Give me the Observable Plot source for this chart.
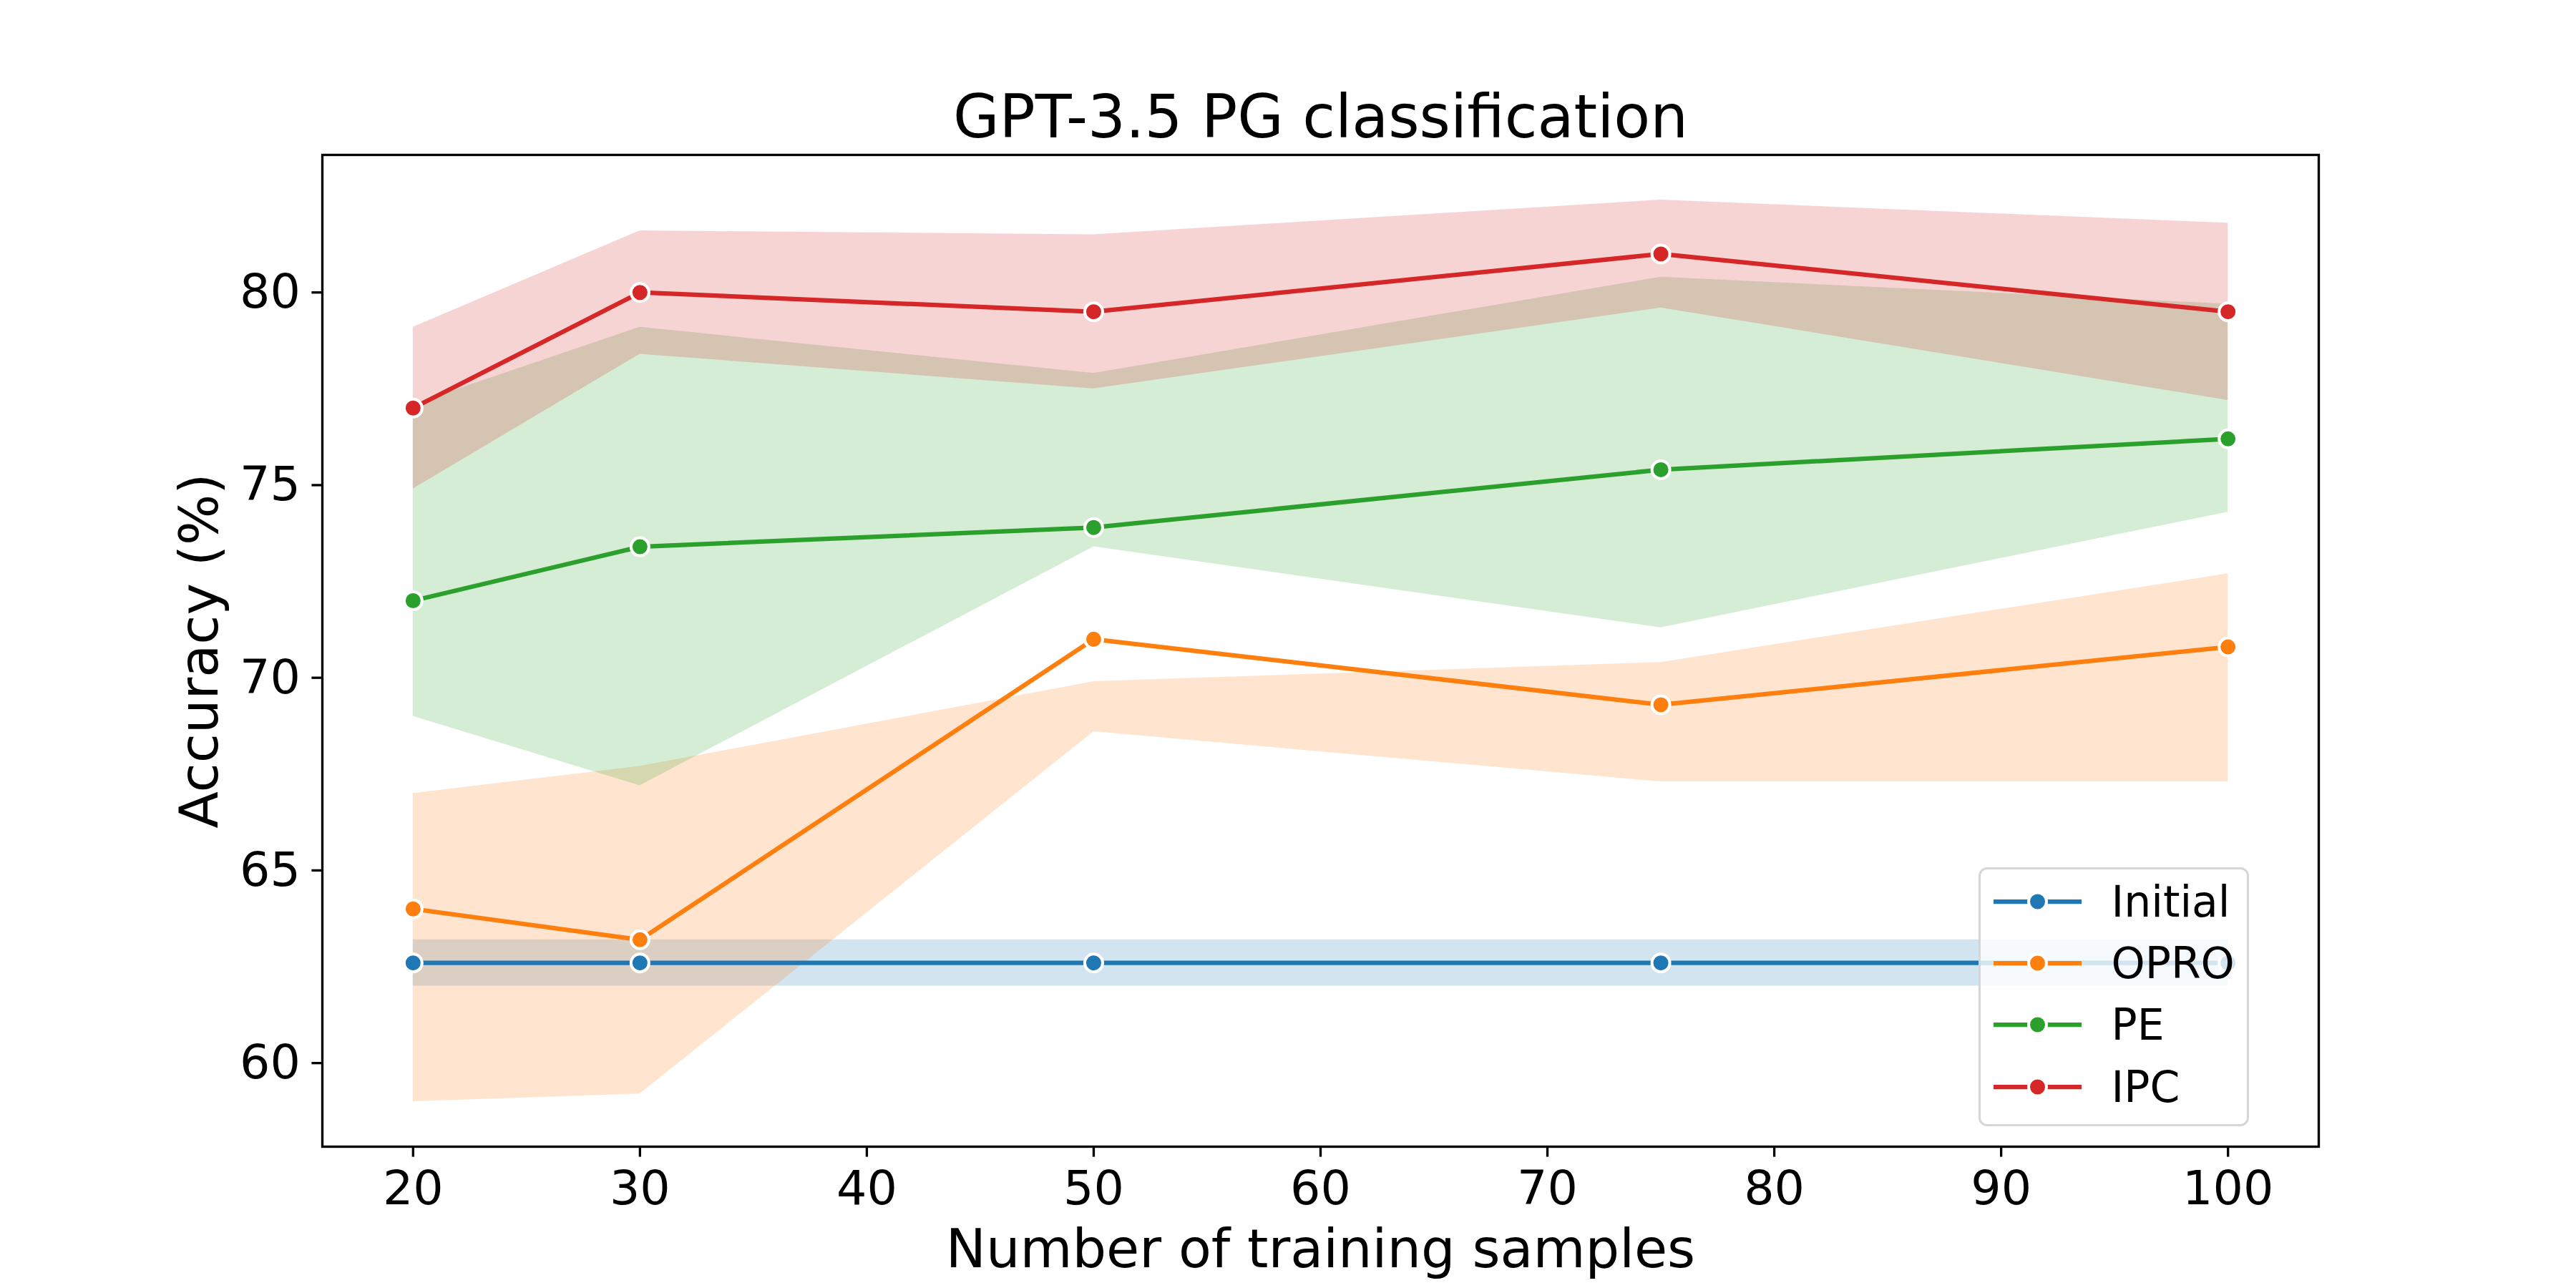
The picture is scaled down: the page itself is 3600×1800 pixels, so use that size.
<!DOCTYPE html>
<html>
<head>
<meta charset="utf-8">
<script src="https://cdn.jsdelivr.net/npm/d3@7"></script>
<script src="https://cdn.jsdelivr.net/npm/@observablehq/plot@0.6"></script>
<style>
  html, body { margin: 0; padding: 0; background: white; }
  #wrap { position: relative; width: 3600px; height: 1800px; font-family: "DejaVu Sans", sans-serif; }
  #legend {
    position: absolute; left: 2765px; top: 1212px; width: 378px; height: 362px;
    box-sizing: border-box; border: 3.5px solid #d6d6d6; border-radius: 12px;
    background: rgba(255,255,255,0.8); padding-top: 1.5px;
  }
  .row { display: flex; align-items: center; height: 86.3px; }
  .row svg { margin-left: 17.5px; display: block; }
  .row span { margin-left: 42px; font-size: 60px; line-height: 1; color: black; }
</style>
</head>
<body>
<div id="wrap">
  <div id="chart"></div>
  <div id="legend"></div>
</div>
<script>
// ---- data ----
const xs = [20, 30, 50, 75, 100];
const seriesNames = ["Initial", "OPRO", "PE", "IPC"];
const seriesColors = ["#1f77b4", "#ff7f0e", "#2ca02c", "#d62728"];

const initialMean = [62.6, 62.6, 62.6, 62.6, 62.6];
const initialLo   = [62.0, 62.0, 62.0, 62.0, 62.0];
const initialHi   = [63.2, 63.2, 63.2, 63.2, 63.2];

const oproMean = [64.0, 63.2, 71.0, 69.3, 70.8];
const oproLo   = [59.0, 59.2, 68.6, 67.3, 67.3];
const oproHi   = [67.0, 67.7, 69.9, 70.4, 72.7];

const peMean = [72.0, 73.4, 73.9, 75.4, 76.2];
const peLo   = [69.0, 67.2, 73.4, 71.3, 74.3];
const peHi   = [77.1, 79.1, 77.9, 80.4, 79.7];

const ipcMean = [77.0, 80.0, 79.5, 81.0, 79.5];
const ipcLo   = [74.9, 78.4, 77.5, 79.6, 77.2];
const ipcHi   = [79.1, 81.6, 81.5, 82.4, 81.8];

const xTicks = [20, 30, 40, 50, 60, 70, 80, 90, 100];
const yTicks = [60, 65, 70, 75, 80];

const titleText = "GPT-3.5 PG classification";
const xLabelText = "Number of training samples";
const yLabelText = "Accuracy (%)";

// ---- build table ----
const means = [initialMean, oproMean, peMean, ipcMean];
const los = [initialLo, oproLo, peLo, ipcLo];
const his = [initialHi, oproHi, peHi, ipcHi];
const seriesRows = seriesNames.map((name, i) =>
  xs.map((x, j) => ({series: name, x, mean: means[i][j], lo: los[i][j], hi: his[i][j]}))
);
const allRows = seriesRows.flat();

// matplotlib-like 5% margins
const xExt = d3.extent(xs);
const xPad = (xExt[1] - xExt[0]) * 0.05;
const yMin = d3.min(allRows, d => Math.min(d.lo, d.mean));
const yMax = d3.max(allRows, d => Math.max(d.hi, d.mean));
const yPad = (yMax - yMin) * 0.05;

const bandMarks = seriesRows.map((rows, i) =>
  Plot.areaY(rows, {x: "x", y1: "lo", y2: "hi", fill: seriesColors[i], fillOpacity: 0.2})
);
const lineMarks = seriesRows.flatMap((rows, i) => [
  Plot.line(rows, {x: "x", y: "mean", stroke: seriesColors[i], strokeWidth: 6.25, strokeLinejoin: "round"}),
  Plot.dot(rows, {x: "x", y: "mean", fill: seriesColors[i], stroke: "white", strokeWidth: 4, r: 12.5})
]);

const chart = Plot.plot({
  width: 3600,
  height: 1800,
  marginLeft: 450,
  marginRight: 360,
  marginTop: 216,
  marginBottom: 198,
  style: {fontFamily: "'DejaVu Sans', sans-serif", background: "white", color: "black", overflow: "visible"},
  x: {domain: [xExt[0] - xPad, xExt[1] + xPad], label: null},
  y: {domain: [yMin - yPad, yMax + yPad], label: null},
  marks: [
    ...bandMarks,
    ...lineMarks,
    Plot.frame({stroke: "black", strokeWidth: 3.33}),
    Plot.axisX({ticks: xTicks, tickSize: 14.6, tickPadding: 19, fontSize: 66.7, strokeWidth: 3.33, label: null}),
    Plot.axisY({ticks: yTicks, tickSize: 14.6, tickPadding: 16, fontSize: 66.7, strokeWidth: 3.33, label: null}),
    Plot.text([titleText], {text: d => d, frameAnchor: "top", textAnchor: "middle", lineAnchor: "bottom", dy: -25, fontSize: 83.3}),
    Plot.text([xLabelText], {text: d => d, frameAnchor: "bottom", textAnchor: "middle", lineAnchor: "bottom", dy: 168, fontSize: 75}),
    Plot.text([yLabelText], {text: d => d, frameAnchor: "left", textAnchor: "middle", lineAnchor: "bottom", rotate: -90, dx: -147, fontSize: 75})
  ]
});
document.getElementById("chart").appendChild(chart);

// ---- legend ----
const legend = d3.select("#legend");
seriesNames.forEach((name, i) => {
  const row = legend.append("div").attr("class", "row");
  const svg = row.append("svg").attr("width", 123).attr("height", 32);
  svg.append("line").attr("x1", 0).attr("x2", 123).attr("y1", 16).attr("y2", 16)
    .attr("stroke", seriesColors[i]).attr("stroke-width", 6.25);
  svg.append("circle").attr("cx", 61.5).attr("cy", 16).attr("r", 12.5)
    .attr("fill", seriesColors[i]).attr("stroke", "white").attr("stroke-width", 4);
  row.append("span").text(name);
});
</script>
</body>
</html>
